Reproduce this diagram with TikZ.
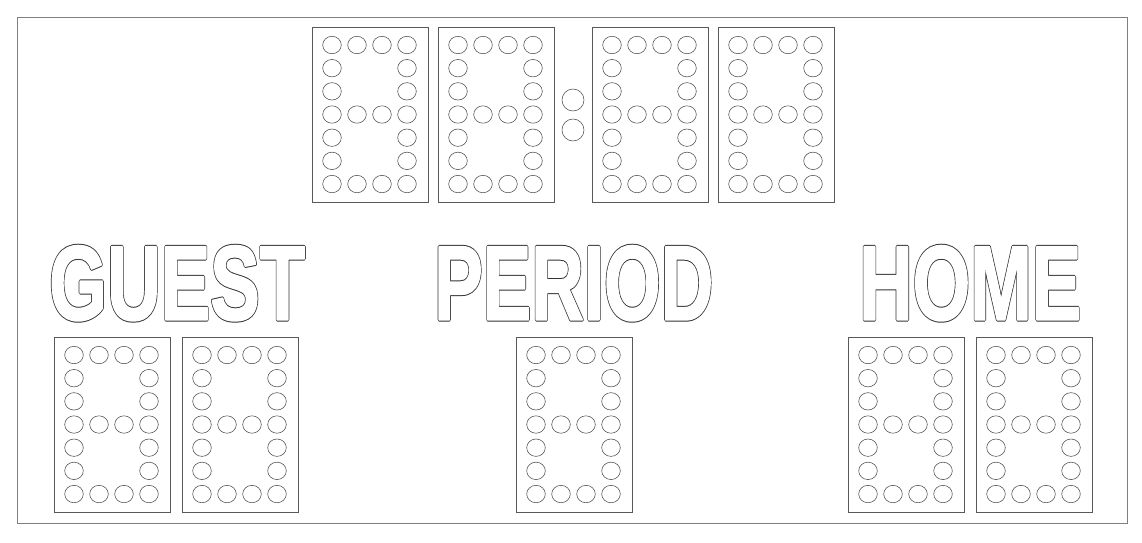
\documentclass[tikz,border=0pt]{standalone}
\usepackage{fontspec}
\setmainfont{Liberation Sans}
\usepackage{graphicx}
% outlined, slightly emboldened lettering: a thick dark stroke covered by a thinner white one
\newcommand{\outlinetext}[1]{%
  \makebox[0pt][l]{\special{pdf:literal direct 2 Tr 4.0 w 1 j}#1\special{pdf:literal direct 0 Tr}}%
  \textcolor{white}{\special{pdf:literal direct 2 Tr 2.0 w 1 j}#1\special{pdf:literal direct 0 Tr}}}
\tikzset{
  frame/.style={draw=black!50, line width=0.8pt},
  digitbox/.style={draw=black!65, line width=0.6pt, minimum width=116pt, minimum height=175pt, inner sep=0pt, anchor=north west},
  lamp/.style={draw=black!70, line width=0.55pt},
  label/.style={inner sep=0pt, anchor=north west, text=black!80, font=\bfseries\fontsize{107.5pt}{110pt}\selectfont}
}
\newcommand{\digitunit}[3]{%
  \node[digitbox] (#1) at (#2,#3) {};
  \foreach \c/\r in {0/0,1/0,2/0,3/0,0/1,3/1,0/2,3/2,0/3,1/3,2/3,3/3,0/4,3/4,0/5,3/5,0/6,1/6,2/6,3/6}{
    \draw[lamp] ({#2+20+25*\c},{#3+18+23.17*\r}) ellipse [x radius=9.3pt, y radius=8.7pt];
  }%
}
\begin{document}
\begin{tikzpicture}[x=1pt,y=-1pt]
\useasboundingbox (0,0) rectangle (1142,542);
\node[frame, minimum width=1110pt, minimum height=506pt, anchor=north west, inner sep=0pt] (board) at (17,17) {};
% clock digits
\digitunit{m1}{312}{27}
\digitunit{m2}{438}{27}
\digitunit{s1}{592}{27}
\digitunit{s2}{718}{27}
% colon
\draw[lamp] (573,100) circle [radius=11pt];
\draw[lamp] (573,130) circle [radius=11pt];
% labels
\node[label] (guest) at (49,245.5) {\resizebox{256pt}{74pt}{\outlinetext{GUEST}}};
\node[label] (period) at (434,245.5) {\resizebox{279pt}{74pt}{\outlinetext{PERIOD}}};
\node[label] (home) at (859,245.5) {\resizebox{222pt}{74pt}{\outlinetext{HOME}}};
% score digits
\digitunit{g1}{54}{337}
\digitunit{g2}{182}{337}
\digitunit{p1}{516}{337}
\digitunit{h1}{848}{337}
\digitunit{h2}{976}{337}
\end{tikzpicture}
\end{document}
